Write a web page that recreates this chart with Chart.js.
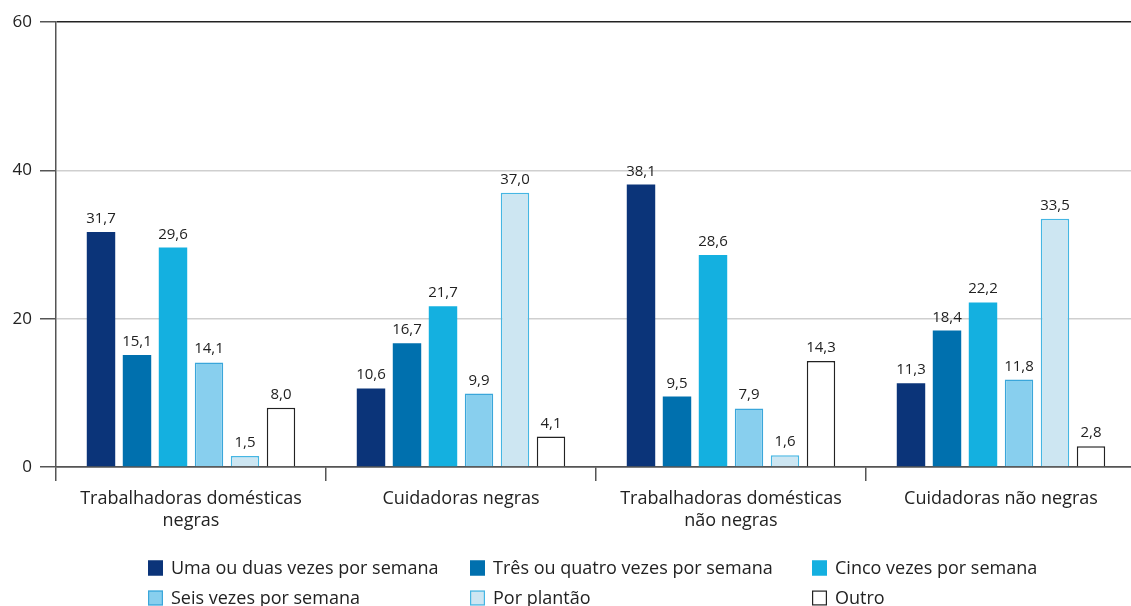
<!DOCTYPE html>
<html>
<head>
<meta charset="utf-8">
<script src="https://cdn.jsdelivr.net/npm/chart.js@4"></script>
<style>
  html, body { margin: 0; padding: 0; background: #fff; overflow: hidden; }
  #wrap { width: 1136px; height: 602px; margin-top: 4px; }
</style>
</head>
<body>
<div id="wrap"><canvas id="chart"></canvas></div>
<script>
const categories = [
  ["Trabalhadoras domésticas", "negras"],
  "Cuidadoras negras",
  ["Trabalhadoras domésticas", "não negras"],
  "Cuidadoras não negras",
];

const seriesNames = [
  "Uma ou duas vezes por semana",
  "Três ou quatro vezes por semana",
  "Cinco vezes por semana",
  "Seis vezes por semana",
  "Por plantão",
  "Outro",
];

const umaOuDuas = [31.7, 10.6, 38.1, 11.3];
const tresOuQuatro = [15.1, 16.7, 9.5, 18.4];
const cinco = [29.6, 21.7, 28.6, 22.2];
const seis = [14.1, 9.9, 7.9, 11.8];
const plantao = [1.5, 37.0, 1.6, 33.5];
const outro = [8.0, 4.1, 14.3, 2.8];

const yTicks = [0, 20, 40, 60];

const fills = ["#0b3479", "#0070ae", "#14b0e0", "#88cfee", "#cde6f2", "#ffffff"];
const borders = ["#0b3479", "#0070ae", "#14b0e0", "#3aa6da", "#45b6e3", "#222222"];
const FONT = "'Open Sans', 'Noto Sans', sans-serif";

const values = [umaOuDuas, tresOuQuatro, cinco, seis, plantao, outro];

const fmt = (n) => n.toFixed(1).replace(".", ",");

// rótulos de valor acima das barras
const valueLabels = {
  id: "valueLabels",
  afterDatasetsDraw(chart) {
    const { ctx } = chart;
    ctx.save();
    ctx.font = `15px ${FONT}`;
    ctx.fillStyle = "#222";
    ctx.textAlign = "center";
    ctx.textBaseline = "alphabetic";
    chart.data.datasets.forEach((ds, i) => {
      chart.getDatasetMeta(i).data.forEach((bar, j) => {
        ctx.fillText(fmt(ds.data[j]), bar.x, bar.y - 9);
      });
    });
    ctx.restore();
  },
};

// legenda em grade de 3 colunas
const gridLegend = {
  id: "gridLegend",
  afterDraw(chart) {
    const { ctx } = chart;
    const cols = [148, 470, 812];
    const rows = [564, 594];
    ctx.save();
    ctx.font = `18px ${FONT}`;
    ctx.textBaseline = "middle";
    ctx.textAlign = "left";
    chart.data.datasets.forEach((ds, i) => {
      const x = cols[i % 3];
      const y = rows[Math.floor(i / 3)];
      ctx.fillStyle = ds.backgroundColor;
      ctx.fillRect(x, y - 7.5, 15, 15);
      ctx.strokeStyle = ds.borderColor;
      ctx.lineWidth = 1.2;
      ctx.strokeRect(x + 0.6, y - 6.9, 13.8, 13.8);
      ctx.fillStyle = "#222";
      ctx.fillText(ds.label, x + 23, y + 1);
    });
    ctx.restore();
  },
};

new Chart(document.getElementById("chart"), {
  type: "bar",
  data: {
    labels: categories,
    datasets: seriesNames.map((name, i) => ({
      label: name,
      data: values[i],
      backgroundColor: fills[i],
      borderColor: borders[i],
      borderWidth: i >= 3 ? 1.5 : 0,
      categoryPercentage: 0.8,
      barPercentage: 0.79,
    })),
  },
  options: {
    responsive: true,
    maintainAspectRatio: false,
    animation: false,
    layout: { padding: { top: 13, right: 0, left: 0, bottom: 0 } },
    plugins: { legend: { display: false }, tooltip: { enabled: false } },
    scales: {
      x: {
        grid: {
          offset: true,
          drawOnChartArea: false,
          drawTicks: true,
          tickLength: 14,
          color: "#555",
          lineWidth: 1.5,
        },
        border: { display: true, color: "#555", width: 1.5 },
        ticks: { font: { family: FONT, size: 18 }, color: "#222", padding: 7, lineHeight: 1.2 },
        afterFit(scale) { scale.height = 139; },
      },
      y: {
        min: 0,
        max: 60,
        afterBuildTicks(scale) { scale.ticks = yTicks.map((v) => ({ value: v })); },
        grid: {
          color: (c) => (c.tick && c.tick.value === 60 ? "#222" : c.tick && c.tick.value === 0 ? "#555" : "#cfcfcf"),
          tickColor: "#555",
          tickLength: 16,
          lineWidth: 1.5,
        },
        border: { display: true, color: "#555", width: 1.5 },
        ticks: { font: { family: FONT, size: 17 }, color: "#222", padding: 8 },
        afterFit(scale) { scale.width = 56; },
      },
    },
  },
  plugins: [valueLabels, gridLegend],
});
</script>
</body>
</html>
